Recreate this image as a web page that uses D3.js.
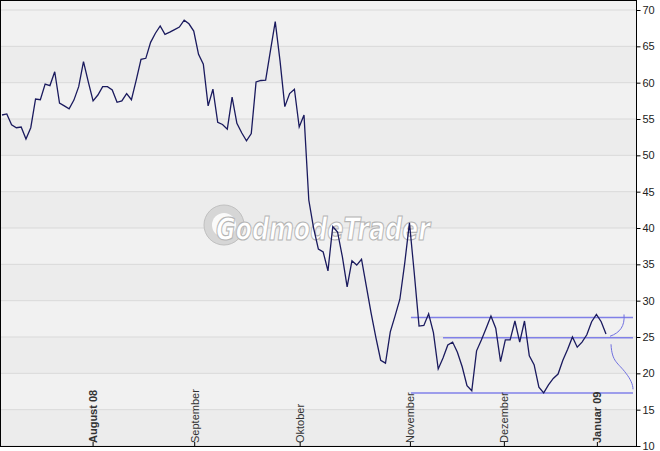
<!DOCTYPE html><html><head><meta charset="utf-8"><script src="https://cdn.jsdelivr.net/npm/d3@7"></script>
<style>body{margin:0;background:#fff}</style></head><body><svg id="c" width="660" height="451"></svg><script>
const prices=[55.55,55.7,54.2,53.8,53.9,52.25,53.8,57.75,57.65,59.8,59.6,61.5,57.2,56.8,56.4,57.6,59.45,62.9,60.1,57.5,58.3,59.45,59.45,59.0,57.3,57.5,58.5,57.65,60.35,63.2,63.35,65.55,66.8,67.8,66.65,66.95,67.3,67.65,68.6,68.1,67.1,63.9,62.55,56.8,59.1,54.55,54.25,53.6,58.0,54.4,53.1,52.0,53.0,60.1,60.3,60.35,64.4,68.4,63.0,56.7,58.5,59.1,53.9,55.55,
43.85,40.0,37.1,36.7,34.1,40.2,39.45,36.05,31.9,35.5,34.9,35.7,32.0,28.3,24.9,21.8,21.4,25.7,27.9,30.2,35.1,40.7,33.8,26.5,26.6,28.2,
25.6,20.6,22.1,23.9,24.3,22.9,20.9,18.3,17.6,23.1,24.6,26.2,27.9,26.2,21.6,24.6,24.6,27.2,24.3,27.2,22.4,21.2,18.1,17.3,18.4,19.3,19.9,21.8,23.3,25.0,23.6,24.3,25.3,27.1,28.1,27.1,25.4];
const monthLabels=["August 08","September","Oktober","November","Dezember","Januar 09"];
const monthIdx=[19,40.2,62.2,85.2,104.8,124.2];
const monthBold=[true,false,false,false,false,true];
const yTicks=[10,15,20,25,30,35,40,45,50,55,60,65,70];
const levels=[{v:27.7,from:85.3},{v:24.9,from:92},{v:17.3,from:85.3}];
const svg=d3.select("#c");
const L=1,R=636,T=1,B=446;
const x=d3.scaleLinear().domain([0,prices.length-1]).range([2,606]);
const y=d3.scaleLinear().domain([10,70]).range([446,10]);
svg.append("rect").attr("x",L).attr("y",T).attr("width",R-L).attr("height",B-T).attr("fill","#f1f1f1");
for(let i=0;i<yTicks.length-1;i++){if(i%2==0)svg.append("rect").attr("x",L).attr("y",y(yTicks[i+1])).attr("width",R-L).attr("height",y(yTicks[i])-y(yTicks[i+1])).attr("fill","#ececec");}
svg.append("rect").attr("x",L).attr("y",T).attr("width",R-L).attr("height",y(70)-T).attr("fill","#f1f1f1");
svg.selectAll(".g").data(yTicks).join("line").attr("x1",L).attr("x2",R).attr("y1",d=>y(d)).attr("y2",d=>y(d)).attr("stroke","#d9d9d9");
const wm=svg.append("g");
wm.append("circle").attr("cx",224).attr("cy",225).attr("r",20).attr("fill","#d6d6d6").attr("stroke","#c0c0c0");
wm.append("circle").attr("cx",224).attr("cy",225).attr("r",12).attr("fill","#fafafa");
wm.append("text").attr("x",216).attr("y",240).attr("textLength",214).attr("lengthAdjust","spacingAndGlyphs").attr("font-family","DejaVu Sans").attr("font-weight","bold").attr("font-style","italic").attr("font-size",32).attr("fill","#fff").attr("stroke","#b5b5b5").attr("stroke-width",1.2).text("GodmodeTrader");
svg.selectAll(".lv").data(levels).join("line").attr("x1",d=>x(d.from)).attr("x2",633).attr("y1",d=>y(d.v)).attr("y2",d=>y(d.v)).attr("stroke","#8080e8").attr("stroke-width",1.5);
const br=svg.append("g").attr("fill","none").attr("stroke","#7070e0").attr("stroke-width",1);
br.append("path").attr("d",`M610,${y(25.1)} C620,${y(25.6)} 625,${y(26.5)} 624,${y(28.1)}`);
br.append("path").attr("d",`M611,${y(24)} C612,${y(21.5)} 618,${y(21.5)} 626,${y(20)} C630,${y(19.3)} 633,${y(18.5)} 633,${y(17.8)}`);
svg.append("path").datum(prices).attr("d",d3.line().x((d,i)=>x(i)).y(d=>y(d))).attr("fill","none").attr("stroke","#1a1a5e").attr("stroke-width",1.3);
svg.append("rect").attr("x",0.5).attr("y",0.5).attr("width",R).attr("height",B).attr("fill","none").attr("stroke","#000");
const ay=svg.append("g").attr("transform",`translate(${R+0.5},0)`).call(d3.axisRight(y).tickValues(yTicks).tickSize(4).tickPadding(2));
ay.select(".domain").remove();
ay.selectAll("text").attr("font-family","Liberation Sans, Arial").attr("font-size",11).attr("fill","#222");
svg.selectAll(".ml").data(monthLabels).join("text").attr("transform",(d,i)=>`translate(${x(monthIdx[i])+4},443) rotate(-90)`).attr("font-family","Liberation Sans, Arial").attr("font-size",11).attr("font-weight",(d,i)=>monthBold[i]?"bold":"normal").attr("fill","#333").text(d=>d);
svg.selectAll(".mt").data(monthIdx).join("line").attr("x1",d=>x(d)).attr("x2",d=>x(d)).attr("y1",B-4).attr("y2",B).attr("stroke","#000");
</script></body></html>
